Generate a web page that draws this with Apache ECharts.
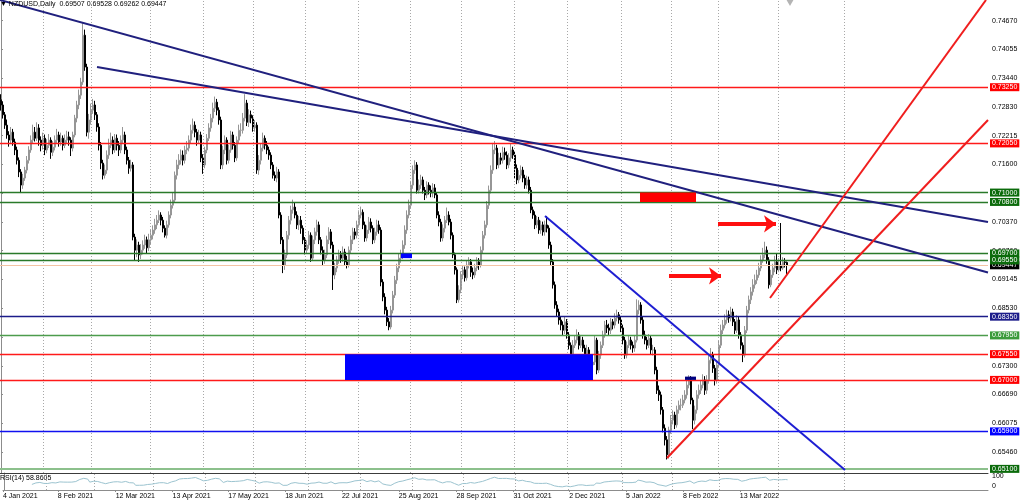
<!DOCTYPE html>
<html>
<head>
<meta charset="utf-8">
<title>NZDUSD Daily</title>
<script src="https://cdn.jsdelivr.net/npm/echarts@6/dist/echarts.min.js"></script>
<style>
  html, body { margin: 0; padding: 0; background: #fff; }
  #chart { width: 1024px; height: 502px; }
</style>
</head>
<body>
<div id="chart"></div>
<script>
// NZDUSD daily bars, prices in pips (x 0.0001). open of a bar = close of the bar before
var firstOpen = 7298;
var closes = [
  7287, 7266, 7244, 7223, 7212, 7229, 7208, 7191, 7169, 7144,
  7116, 7131, 7148, 7169, 7191, 7212, 7229, 7216, 7238, 7212,
  7201, 7216, 7191, 7201, 7212, 7186, 7197, 7212, 7223, 7208,
  7216, 7201, 7212, 7219, 7212, 7195, 7223, 7259, 7287, 7308,
  7336, 7436, 7368, 7229, 7255, 7276, 7287, 7266, 7240, 7201,
  7163, 7137, 7148, 7180, 7201, 7212, 7191, 7216, 7201, 7191,
  7212, 7223, 7191, 7169, 7152, 7159, 7005, 6977, 6988, 6967,
  6977, 6988, 6999, 6982, 6999, 7009, 7020, 7031, 7041, 7052,
  7041, 7024, 7009, 7031, 7052, 7073, 7084, 7137, 7159, 7169,
  7180, 7169, 7191, 7195, 7212, 7233, 7244, 7229, 7212, 7223,
  7174, 7159, 7191, 7216, 7238, 7259, 7280, 7293, 7276, 7255,
  7159, 7191, 7212, 7169, 7191, 7223, 7201, 7174, 7212, 7233,
  7233, 7259, 7291, 7250, 7266, 7259, 7238, 7244, 7148, 7169,
  7195, 7216, 7201, 7191, 7180, 7159, 7137, 7131, 7144, 7052,
  6999, 6945, 6967, 7009, 7041, 7063, 7069, 7052, 7031, 7041,
  7024, 6999, 6977, 6988, 7009, 6960, 6999, 7016, 7031, 6999,
  6977, 6956, 6967, 6999, 7016, 6988, 6924, 6939, 6956, 6967,
  6960, 6973, 6952, 6945, 6977, 6999, 7016, 7009, 7031, 7052,
  7058, 7031, 7003, 7020, 7037, 7024, 6999, 7016, 7031, 7020,
  6909, 6877, 6849, 6824, 6813, 6849, 6881, 6913, 6939, 6960,
  6967, 6988, 7020, 7052, 7073, 7116, 7148, 7159, 7105, 7116,
  7127, 7105, 7095, 7116, 7105, 7099, 7110, 7095, 7052, 7037,
  7003, 7024, 7041, 7052, 7037, 7009, 6967, 6935, 6871, 6892,
  6924, 6935, 6918, 6945, 6952, 6930, 6924, 6939, 6952, 6945,
  6977, 7009, 7031, 7073, 7105, 7148, 7191, 7195, 7159, 7174,
  7169, 7186, 7180, 7159, 7174, 7191, 7180, 7152, 7127, 7137,
  7148, 7131, 7116, 7127, 7105, 7063, 7052, 7031, 7041, 7020,
  7031, 7016, 7031, 7024, 6988, 6952, 6903, 6860, 6845, 6828,
  6817, 6806, 6824, 6796, 6774, 6753, 6774, 6785, 6796, 6774,
  6785, 6768, 6749, 6764, 6742, 6732, 6738, 6785, 6721, 6753,
  6774, 6796, 6817, 6811, 6806, 6824, 6817, 6832, 6839, 6828,
  6811, 6785, 6753, 6774, 6785, 6774, 6768, 6785, 6849, 6860,
  6828, 6796, 6785, 6774, 6789, 6764, 6764, 6721, 6678, 6668,
  6636, 6597, 6572, 6540, 6593, 6614, 6625, 6604, 6636, 6646,
  6646, 6657, 6668, 6689, 6700, 6657, 6614, 6636, 6668, 6678,
  6689, 6700, 6678, 6700, 6742, 6753, 6725, 6700, 6732, 6774,
  6806, 6817, 6828, 6839, 6832, 6845, 6824, 6806, 6828, 6796,
  6774, 6753, 6806, 6849, 6871, 6888, 6903, 6913, 6924, 6939,
  6956, 6967, 6977, 6956, 6903, 6924, 6939, 6952, 6935, 6945,
  6939, 6952, 6950.7, 6944.7
];
var highs = [
  7310, 7295, 7272, 7256, 7231, 7240, 7236, 7215, 7198, 7175,
  7150, 7140, 7155, 7178, 7199, 7222, 7245, 7240, 7250, 7246,
  7220, 7228, 7224, 7214, 7225, 7218, 7210, 7222, 7236, 7230,
  7228, 7222, 7224, 7232, 7230, 7218, 7230, 7266, 7296, 7320,
  7345, 7462, 7448, 7375, 7268, 7290, 7300, 7296, 7272, 7248,
  7208, 7170, 7160, 7190, 7215, 7228, 7220, 7225, 7224, 7210,
  7222, 7240, 7230, 7198, 7176, 7170, 7165, 7012, 7000, 6995,
  6990, 6998, 7010, 7006, 7012, 7020, 7030, 7044, 7052, 7062,
  7058, 7048, 7030, 7040, 7060, 7085, 7100, 7145, 7170, 7182,
  7192, 7190, 7200, 7210, 7222, 7245, 7258, 7252, 7236, 7234,
  7230, 7182, 7198, 7225, 7248, 7268, 7292, 7305, 7300, 7282,
  7262, 7200, 7222, 7218, 7202, 7232, 7230, 7208, 7220, 7245,
  7248, 7270, 7310, 7298, 7278, 7275, 7265, 7255, 7250, 7180,
  7205, 7228, 7222, 7210, 7198, 7186, 7165, 7145, 7155, 7150,
  7058, 7005, 6978, 7018, 7050, 7072, 7085, 7078, 7060, 7050,
  7050, 7030, 7005, 6998, 7018, 7015, 7008, 7025, 7042, 7038,
  7005, 6985, 6978, 7008, 7026, 7022, 6995, 6950, 6965, 6978,
  6975, 6985, 6980, 6965, 6985, 7008, 7025, 7024, 7040, 7062,
  7070, 7064, 7038, 7030, 7048, 7045, 7030, 7025, 7042, 7040,
  7026, 6915, 6885, 6856, 6832, 6858, 6890, 6922, 6948, 6970,
  6978, 6998, 7030, 7062, 7085, 7125, 7158, 7169, 7165, 7128,
  7138, 7134, 7112, 7124, 7122, 7115, 7120, 7118, 7100, 7060,
  7044, 7032, 7050, 7068, 7060, 7044, 7015, 6972, 6940, 6902,
  6932, 6945, 6942, 6955, 6962, 6958, 6940, 6948, 6962, 6960,
  6985, 7018, 7040, 7082, 7115, 7158, 7206, 7210, 7202, 7185,
  7185, 7198, 7196, 7188, 7184, 7205, 7198, 7188, 7160, 7148,
  7158, 7155, 7138, 7136, 7134, 7112, 7070, 7060, 7050, 7048,
  7040, 7038, 7040, 7050, 7030, 6995, 6958, 6910, 6868, 6852,
  6835, 6825, 6835, 6830, 6802, 6780, 6785, 6795, 6808, 6802,
  6795, 6792, 6775, 6775, 6770, 6750, 6748, 6795, 6790, 6762,
  6782, 6805, 6826, 6828, 6820, 6832, 6830, 6842, 6850, 6845,
  6835, 6818, 6792, 6782, 6795, 6792, 6782, 6795, 6872, 6870,
  6866, 6835, 6805, 6792, 6798, 6795, 6775, 6770, 6728, 6688,
  6675, 6642, 6605, 6580, 6600, 6625, 6635, 6632, 6645, 6656,
  6660, 6668, 6678, 6700, 6710, 6708, 6662, 6645, 6678, 6690,
  6698, 6712, 6708, 6710, 6752, 6768, 6760, 6732, 6742, 6785,
  6818, 6828, 6840, 6850, 6848, 6856, 6852, 6830, 6838, 6835,
  6802, 6780, 6815, 6858, 6880, 6898, 6915, 6925, 6935, 6950,
  6966, 6982, 6995, 6985, 6962, 6935, 6948, 6965, 6970, 6960,
  7035, 6962, 6960, 6952.8
];
var lows = [
  7275, 7258, 7236, 7215, 7198, 7205, 7200, 7180, 7160, 7133,
  7099, 7108, 7125, 7141, 7162, 7185, 7205, 7209, 7210, 7200,
  7188, 7192, 7180, 7184, 7195, 7172, 7178, 7190, 7205, 7198,
  7200, 7190, 7195, 7204, 7200, 7178, 7188, 7218, 7250, 7278,
  7300, 7330, 7360, 7220, 7215, 7245, 7268, 7255, 7230, 7190,
  7150, 7128, 7130, 7140, 7172, 7195, 7182, 7185, 7190, 7178,
  7184, 7205, 7182, 7160, 7140, 7145, 6998, 6955, 6962, 6952,
  6958, 6968, 6980, 6970, 6975, 6990, 7000, 7012, 7022, 7035,
  7030, 7015, 7004, 7002, 7025, 7045, 7066, 7078, 7128, 7150,
  7160, 7158, 7162, 7182, 7188, 7205, 7226, 7218, 7200, 7205,
  7165, 7140, 7152, 7184, 7210, 7230, 7250, 7272, 7265, 7245,
  7150, 7150, 7182, 7160, 7162, 7185, 7192, 7165, 7168, 7205,
  7220, 7226, 7252, 7242, 7240, 7248, 7230, 7230, 7140, 7138,
  7160, 7188, 7192, 7182, 7170, 7150, 7130, 7125, 7122, 7045,
  6990, 6928, 6935, 6960, 7000, 7032, 7055, 7045, 7022, 7020,
  7012, 6990, 6968, 6970, 6980, 6952, 6955, 6990, 7008, 6990,
  6968, 6945, 6948, 6960, 6990, 6980, 6892, 6915, 6930, 6948,
  6950, 6952, 6945, 6938, 6940, 6970, 6990, 7000, 7002, 7025,
  7045, 7022, 6995, 6996, 7012, 7015, 6990, 6992, 7008, 7012,
  6900, 6868, 6840, 6815, 6806, 6808, 6842, 6875, 6905, 6930,
  6950, 6958, 6980, 7012, 7045, 7066, 7108, 7140, 7098, 7098,
  7108, 7098, 7084, 7088, 7096, 7090, 7090, 7088, 7045, 7028,
  6995, 6996, 7015, 7035, 7030, 7000, 6960, 6925, 6864, 6865,
  6885, 6915, 6910, 6912, 6938, 6920, 6915, 6918, 6932, 6935,
  6940, 6970, 7002, 7025, 7065, 7098, 7140, 7182, 7150, 7152,
  7160, 7162, 7170, 7150, 7152, 7166, 7172, 7130, 7118, 7120,
  7130, 7122, 7108, 7108, 7098, 7056, 7044, 7022, 7024, 7012,
  7012, 7008, 7008, 7015, 6980, 6945, 6895, 6852, 6835, 6818,
  6806, 6795, 6798, 6788, 6765, 6745, 6748, 6768, 6778, 6765,
  6768, 6760, 6740, 6742, 6735, 6725, 6726, 6732, 6712, 6715,
  6745, 6768, 6790, 6800, 6796, 6798, 6808, 6810, 6825, 6820,
  6802, 6776, 6745, 6746, 6768, 6765, 6758, 6760, 6780, 6840,
  6820, 6788, 6776, 6765, 6768, 6755, 6752, 6712, 6670, 6655,
  6626, 6588, 6560, 6530, 6532, 6585, 6605, 6595, 6598, 6628,
  6635, 6640, 6650, 6660, 6682, 6648, 6595, 6605, 6628, 6660,
  6670, 6682, 6668, 6670, 6692, 6735, 6715, 6688, 6692, 6725,
  6768, 6798, 6810, 6820, 6822, 6825, 6815, 6798, 6800, 6788,
  6765, 6738, 6748, 6800, 6842, 6862, 6880, 6895, 6905, 6918,
  6932, 6950, 6960, 6948, 6895, 6898, 6918, 6930, 6926, 6930,
  6932, 6935, 6940, 6926.2
];

// time scale labels and the bar they start at (first one is cut by the left edge)
var dateLabels = ['4 Jan 2021', '8 Feb 2021', '12 Mar 2021', '13 Apr 2021', '17 May 2021', '18 Jun 2021',
  '22 Jul 2021', '25 Aug 2021', '28 Sep 2021', '31 Oct 2021', '2 Dec 2021', '5 Jan 2022', '8 Feb 2022', '13 Mar 2022'];
var dateBars = [-0.5, 27, 56, 84.5, 112.5, 141, 169.5, 198, 227, 255.5, 283.5, 312, 340.5, 369];

// price scale labels
var priceTicks = [0.74670, 0.74055, 0.73440, 0.72830, 0.72215, 0.71600, 0.70985, 0.70370,
  0.69760, 0.69145, 0.68530, 0.67915, 0.67300, 0.66690, 0.66075, 0.65460];

// horizontal levels drawn on the chart, with their kind
var levelPrices = [0.73250, 0.72050, 0.71000, 0.70800, 0.69700, 0.69550, 0.68350, 0.67950, 0.67550, 0.67000, 0.65900, 0.65100];
var levelKinds = ['red', 'red', 'green', 'green', 'green', 'green', 'navy', 'lightgreen', 'red', 'red', 'blue', 'palegreen'];
var bidPrice = 0.69447;

var font = 'Liberation Sans, Arial, sans-serif';

var bars = closes.map(function (c, i) {
  var o = i === 0 ? firstOpen : closes[i - 1];
  return [i, o / 1e4, c / 1e4, lows[i] / 1e4, highs[i] / 1e4];
});

// RSI(14), Wilder smoothing of the closes
function rsi(vals, n) {
  var out = [], g = 0, l = 0;
  for (var i = 1; i < vals.length; i++) {
    var d = vals[i] - vals[i - 1];
    var up = d > 0 ? d : 0, dn = d < 0 ? -d : 0;
    if (i <= n) {
      g += up; l += dn;
      if (i === n) { g /= n; l /= n; out.push([i, 100 - 100 / (1 + g / l)]); }
    } else {
      g = (g * (n - 1) + up) / n;
      l = (l * (n - 1) + dn) / n;
      out.push([i, l === 0 ? 100 : 100 - 100 / (1 + g / l)]);
    }
  }
  return out;
}

// line colour, tag colour, line width
var kindStyle = {
  red: ['#ff1a1a', '#ff0000', 1.3],
  green: ['#2a7a2a', '#0b6b0b', 1.3],
  navy: ['#1c1c8a', '#1c1c8a', 1.3],
  lightgreen: ['#4c9c4c', '#3b9b3b', 1.3],
  blue: ['#1010f0', '#0000ff', 1.3],
  palegreen: ['#8cc08c', '#0b6b0b', 2]
};

function tagLabel(text, bg) {
  return {
    show: true, position: 'end', distance: 2, formatter: text,
    backgroundColor: bg, color: '#ffffff', padding: [1, 2, 0, 2],
    fontSize: 7, fontFamily: font
  };
}

// vertical dotted grid
var gridX = [21.35, 45.35, 74.85, 101, 126, 152.35, 178.5, 204.5, 230.35, 256.5, 283, 310, 335, 358.5, 388.5, 421.5];
var gridLines = gridX.map(function (x) {
  return { xAxis: x, lineStyle: { color: '#a8a8a8', width: 1, type: [1, 2] }, label: { show: false } };
});

var levelLines = [{
  yAxis: bidPrice, lineStyle: { color: '#f3c4a4', width: 1, type: 'solid' },
  label: tagLabel(bidPrice.toFixed(5), '#000000')
}].concat(levelPrices.map(function (p, k) {
  var s = kindStyle[levelKinds[k]];
  return { yAxis: p, lineStyle: { color: s[0], width: s[2], type: 'solid', opacity: 1 }, label: tagLabel(p.toFixed(5), s[1]) };
}));

function seg(a, b, color, w) {
  return [{ coord: a, lineStyle: { color: color, width: w, type: 'solid' }, label: { show: false } }, { coord: b }];
}
function arrow(a, b) {
  return [
    { coord: a, symbol: 'none', lineStyle: { color: '#ff1010', width: 4, type: 'solid' }, label: { show: false } },
    { coord: b, symbol: 'arrow', symbolSize: [13, 12] }
  ];
}

var trendLines = [
  seg([-0.5, 0.75112], [493.5, 0.69293], '#20207e', 2),
  seg([48, 0.7368], [493.5, 0.7037], '#20207e', 2),
  seg([272, 0.7050], [422, 0.65075], '#1e1ed2', 2),
  seg([333, 0.65332], [493.5, 0.72550], '#f01e1e', 2),
  seg([384.5, 0.68749], [492.5, 0.75112], '#f01e1e', 2),
  arrow([358.5, 0.7033], [387.5, 0.7033]),
  arrow([334, 0.6922], [360, 0.6922])
];

function box(x0, y0, x1, y1, color) {
  return [{ coord: [x0, y0], itemStyle: { color: color, opacity: 1 } }, { coord: [x1, y1] }];
}

var chart = echarts.init(document.getElementById('chart'));
var option = {
  animation: false,
  backgroundColor: '#ffffff',
  textStyle: { fontFamily: font, fontSize: 7, color: '#000' },
  title: [
    { text: '\u25BC NZDUSD,Daily  0.69507 0.69528 0.69262 0.69447', left: 0, top: 1, padding: 0,
      textStyle: { fontSize: 7, fontWeight: 'normal', color: '#000', fontFamily: font } },
    { text: 'RSI(14) 58.8605', left: 0, top: 475, padding: 0,
      textStyle: { fontSize: 7, fontWeight: 'normal', color: '#000', fontFamily: font } }
  ],
  grid: [
    { left: 0, right: 36, top: 0, height: 473 },
    { left: 0, right: 36, top: 473, height: 17 }
  ],
  xAxis: [
    { type: 'value', gridIndex: 0, min: -0.5, max: 493.5,
      axisLine: { show: true, onZero: false, lineStyle: { color: '#3c3c3c', width: 1 } },
      axisTick: { show: false }, axisLabel: { show: false }, splitLine: { show: false } },
    { type: 'value', gridIndex: 1, min: -0.5, max: 493.5,
      axisLine: { show: true, onZero: false, lineStyle: { color: '#8c8c8c', width: 1 } },
      axisTick: { show: true, length: 2, customValues: dateBars, lineStyle: { color: '#8c8c8c' } },
      axisLabel: { show: true, customValues: dateBars, align: 'left', margin: 3, fontSize: 7, color: '#000',
        fontFamily: font, formatter: function (v) { var k = dateBars.indexOf(v); return k < 0 ? '' : dateLabels[k]; } },
      splitLine: { show: false } }
  ],
  yAxis: [
    { type: 'value', gridIndex: 0, position: 'right', min: 0.65012, max: 0.75112,
      axisLine: { show: true, lineStyle: { color: '#8c8c8c', width: 1 } },
      axisTick: { show: true, length: 2, customValues: priceTicks, lineStyle: { color: '#8c8c8c' } },
      axisLabel: { customValues: priceTicks, margin: 4, fontSize: 7, color: '#000', fontFamily: font,
        formatter: function (v) { return v.toFixed(5); } },
      splitLine: { show: false } },
    { type: 'value', gridIndex: 1, position: 'right', min: 0, max: 100,
      axisLine: { show: true, lineStyle: { color: '#8c8c8c', width: 1 } },
      axisTick: { show: false },
      axisLabel: { customValues: [100], margin: 4, fontSize: 7, color: '#000', verticalAlign: 'top', fontFamily: font },
      splitLine: { show: false } },
    { type: 'value', gridIndex: 1, position: 'right', min: 0, max: 100,
      axisLine: { show: false }, axisTick: { show: false },
      axisLabel: { customValues: [0], margin: 4, fontSize: 7, color: '#000', verticalAlign: 'bottom', fontFamily: font },
      splitLine: { show: false } }
  ],
  series: [
    {
      name: 'NZDUSD', type: 'candlestick', xAxisIndex: 0, yAxisIndex: 0, z: 2,
      encode: { x: 0, y: [1, 2, 3, 4] },
      data: bars, barWidth: 1.5,
      itemStyle: { color: '#e4e4e4', color0: '#000000', borderColor: '#969696', borderColor0: '#000000', borderWidth: 1 },
      markLine: {
        silent: true, symbol: ['none', 'none'], z: 5, animation: false, precision: 6,
        label: { show: false },
        data: gridLines.concat(levelLines, trendLines)
      },
      markArea: {
        silent: true, z: 6, animation: false, label: { show: false },
        data: [
          box(319.5, 0.7100, 347.5, 0.7080, '#ff0000'),
          box(172, 0.6755, 296, 0.6700, '#0000ff'),
          box(200, 0.6970, 205.5, 0.6960, '#0000ff'),
          box(342, 0.6707, 347.5, 0.6700, '#000080')
        ]
      },
      markPoint: {
        silent: true, animation: false,
        data: [{ coord: [394.5, 0.7505], symbol: 'triangle', symbolRotate: 180, symbolSize: [7, 6],
          itemStyle: { color: '#b4b4b4' }, label: { show: false } }]
      }
    },
    {
      name: 'RSI(14)', type: 'line', xAxisIndex: 1, yAxisIndex: 1, z: 2,
      data: rsi(closes, 14), showSymbol: false, symbol: 'none',
      lineStyle: { color: '#9cc4d0', width: 1 },
      markLine: {
        silent: true, symbol: ['none', 'none'], z: 1, animation: false, label: { show: false },
        data: gridLines
      }
    }
  ]
};
chart.setOption(option);
</script>
</body>
</html>
